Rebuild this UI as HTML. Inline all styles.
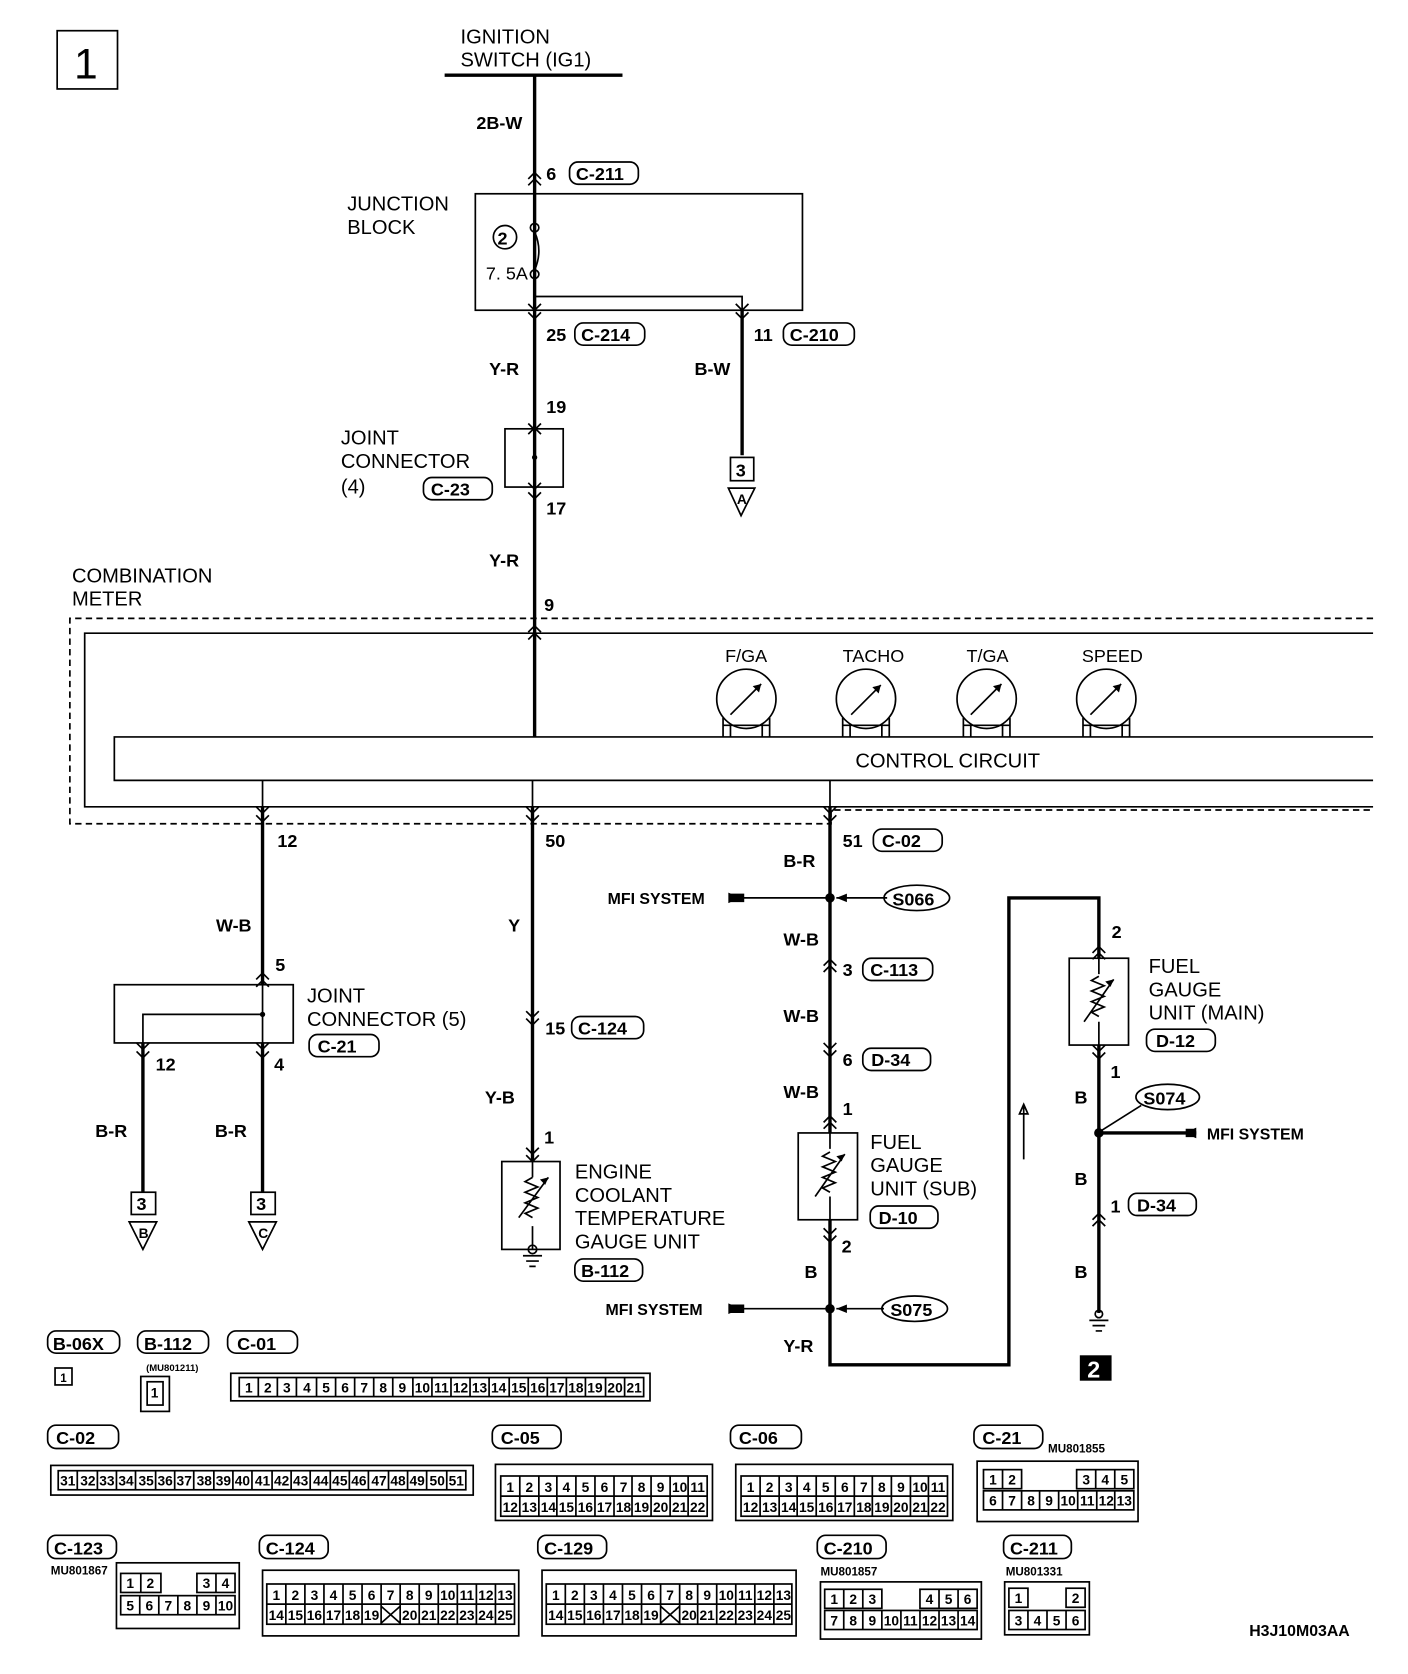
<!DOCTYPE html>
<html><head><meta charset="utf-8"><style>
html,body{margin:0;padding:0;background:#fff;}
svg{display:block;}
text{font-family:"Liberation Sans",sans-serif;fill:#000;}
.t{font-size:19px;}
.n{font-size:17px;font-family:"Liberation Sans Narrow","Liberation Sans",sans-serif;font-weight:bold;}
.s{font-size:13px;font-weight:bold;}
.c{font-size:13px;font-weight:bold;text-anchor:middle;}
.w{stroke:#000;stroke-width:3.2;fill:none;}
.l{stroke:#000;stroke-width:1.6;fill:none;}
.ch{stroke:#000;stroke-width:1.6;fill:none;}
</style></head><body>
<svg width="1408" height="1674" viewBox="0 0 1330 1581" preserveAspectRatio="none" xmlns="http://www.w3.org/2000/svg">
<rect x="0" y="0" width="1330" height="1581" fill="#fff"/>
<rect x="54" y="29" width="57" height="55" class="l" stroke-width="2.4"/>
<text x="70" y="74" style="font-size:40px">1</text>
<text x="435" y="41" class="t">IGNITION</text>
<text x="435" y="63" class="t">SWITCH (IG1)</text>
<path d="M420 71 H588" class="w"/>
<path d="M505 71 V598 M505 598 V696" class="w"/>
<text x="450" y="122" class="n">2B-W</text>
<text x="516" y="170" class="n">6</text>
<rect x="538" y="153" width="65" height="21" rx="8" class="l"/><text x="544" y="170" class="n">C-211</text>
<rect x="449" y="183" width="309" height="110" class="l"/>
<text x="328" y="199" class="t">JUNCTION</text>
<text x="328" y="221" class="t">BLOCK</text>
<circle cx="477" cy="224" r="11" class="l"/><text x="470" y="231" class="n">2</text>
<circle cx="505" cy="215" r="4" fill="#fff" class="l"/>
<circle cx="505" cy="259" r="4" fill="#fff" class="l"/>
<path d="M505 219 Q513 237 505 255" class="l"/>
<text x="459" y="264" class="n" style="font-weight:normal">7. 5A</text>
<path d="M505 263 V280 H701 V293" class="l"/>
<path d="M701 293 V430" class="w"/>
<text x="516" y="322" class="n">25</text>
<rect x="543" y="305" width="66" height="21" rx="8" class="l"/><text x="549" y="322" class="n">C-214</text>
<text x="712" y="322" class="n">11</text>
<rect x="740" y="305" width="67" height="21" rx="8" class="l"/><text x="746" y="322" class="n">C-210</text>
<text x="462" y="354" class="n">Y-R</text>
<text x="656" y="354" class="n">B-W</text>
<rect x="690" y="432" width="22" height="22" class="l" stroke-width="2"/><text x="695" y="450" class="n">3</text>
<path d="M688 461 H713 L700 487 Z" class="l" stroke-width="2"/><text x="696" y="476" class="s">A</text>
<text x="516" y="390" class="n">19</text>
<rect x="477" y="405" width="55" height="55" fill="#fff" class="l"/>
<path d="M505 405 V460" class="l"/><circle cx="505" cy="432" r="2.5"/>
<text x="322" y="420" class="t">JOINT</text>
<text x="322" y="442" class="t">CONNECTOR</text>
<text x="322" y="466" class="t">(4)</text>
<rect x="400" y="451" width="65" height="21" rx="8" class="l"/><text x="407" y="468" class="n">C-23</text>
<text x="516" y="486" class="n">17</text>
<text x="462" y="535" class="n">Y-R</text>
<text x="514" y="577" class="n">9</text>
<text x="68" y="550" class="t">COMBINATION</text>
<text x="68" y="572" class="t">METER</text>
<path d="M1297 584 H66 V778 H785 V765 H1297" class="l" stroke-dasharray="6,4"/>
<path d="M1297 598 H80 V762 H1297" class="l"/>
<path d="M1297 696 H108 V737 H1297" class="l" fill="#fff"/>
<text x="808" y="725" class="t">CONTROL CIRCUIT</text>
<g class="l">
<circle cx="705" cy="660" r="28"/><circle cx="818" cy="660" r="28"/><circle cx="932" cy="660" r="28"/><circle cx="1045" cy="660" r="28"/>
<path d="M683 678 V696 M727 678 V696 M690 685 V696 M720 685 V696 M683 685 H727"/>
<path d="M796 678 V696 M840 678 V696 M803 685 V696 M833 685 V696 M796 685 H840"/>
<path d="M910 678 V696 M954 678 V696 M917 685 V696 M947 685 V696 M910 685 H954"/>
<path d="M1023 678 V696 M1067 678 V696 M1030 685 V696 M1060 685 V696 M1023 685 H1067"/>
<path d="M690 675 L719 646 M804 675 L832 647 M917 675 L946 646 M1030 675 L1059 646"/>
</g>
<path d="M719 646 l-8 2 l6 6 Z M832 647 l-8 2 l6 6 Z M946 646 l-8 2 l6 6 Z M1059 646 l-8 2 l6 6 Z"/>
<text x="685" y="625" class="n" style="font-weight:normal">F/GA</text>
<text x="796" y="625" class="n" style="font-weight:normal">TACHO</text>
<text x="913" y="625" class="n" style="font-weight:normal">T/GA</text>
<text x="1022" y="625" class="n" style="font-weight:normal">SPEED</text>
<path d="M248 737 V762 M503 737 V762 M784 737 V762" class="l"/>
<path d="M248 762 V930 M248 985 V1126 M135 985 V1126" class="w"/>
<text x="262" y="800" class="n">12</text>
<text x="204" y="880" class="n">W-B</text>
<text x="260" y="917" class="n">5</text>
<rect x="108" y="930" width="169" height="55" class="l"/>
<path d="M248 930 V985 M248 958 H135 V985" class="l"/><circle cx="248" cy="958" r="2.5"/>
<text x="290" y="947" class="t">JOINT</text>
<text x="290" y="969" class="t">CONNECTOR (5)</text>
<rect x="292" y="977" width="66" height="21" rx="8" class="l"/><text x="300" y="994" class="n">C-21</text>
<text x="147" y="1011" class="n">12</text>
<text x="259" y="1011" class="n">4</text>
<text x="90" y="1074" class="n">B-R</text>
<text x="203" y="1074" class="n">B-R</text>
<rect x="124" y="1126" width="23" height="21" class="l" stroke-width="2"/><text x="129" y="1143" class="n">3</text>
<path d="M122 1154 H148 L135 1180 Z" class="l" stroke-width="2"/><text x="131" y="1169" class="s">B</text>
<rect x="237" y="1126" width="23" height="21" class="l" stroke-width="2"/><text x="242" y="1143" class="n">3</text>
<path d="M235 1154 H261 L248 1180 Z" class="l" stroke-width="2"/><text x="244" y="1169" class="s">C</text>
<path d="M503 762 V1097" class="w"/>
<text x="515" y="800" class="n">50</text>
<text x="480" y="880" class="n">Y</text>
<text x="515" y="977" class="n">15</text>
<rect x="540" y="960" width="68" height="21" rx="8" class="l"/><text x="546" y="977" class="n">C-124</text>
<text x="458" y="1042" class="n">Y-B</text>
<text x="514" y="1080" class="n">1</text>
<rect x="474" y="1097" width="55" height="83" class="l"/>
<path d="M503 1097 V1112 M503 1158 V1180 M490 1150 L518 1112 M503 1112 l-7 4 l12 5 l-12 5 l12 5 l-12 5 l12 5 l-12 5 l7 4" class="l"/>
<path d="M518 1112 l-8 2 l5 5Z"/>
<circle cx="503" cy="1180" r="4" fill="#fff" class="l"/>
<path d="M494 1186 H512 M497 1191 H509 M500 1196 H506" class="l"/>
<text x="543" y="1113" class="t">ENGINE</text>
<text x="543" y="1135" class="t">COOLANT</text>
<text x="543" y="1157" class="t">TEMPERATURE</text>
<text x="543" y="1179" class="t">GAUGE UNIT</text>
<rect x="543" y="1189" width="64" height="21" rx="8" class="l"/><text x="549" y="1206" class="n">B-112</text>
<path d="M784 762 V1070 M784 1152 V1289 H953 V848 H1038 V905 M1038 987 V1240" class="w"/>
<text x="796" y="800" class="n">51</text>
<rect x="825" y="783" width="65" height="21" rx="8" class="l"/><text x="833" y="800" class="n">C-02</text>
<text x="740" y="819" class="n">B-R</text>
<circle cx="784" cy="848" r="4.5"/>
<path d="M690 848 H784 M838 848 H790" class="l"/>
<path d="M703 844 L690 844 L690 852 L703 852 Z M700 848 l-12 -5 v10Z"/>
<path d="M790 848 l10 -4 v8Z"/>
<text x="574" y="854" class="s" style="font-size:15px">MFI SYSTEM</text>
<ellipse cx="866" cy="848" rx="31" ry="12" class="l" stroke-width="2"/><text x="843" y="855" class="n">S066</text>
<text x="740" y="893" class="n">W-B</text>
<text x="796" y="922" class="n">3</text>
<rect x="815" y="905" width="66" height="21" rx="8" class="l"/><text x="822" y="922" class="n">C-113</text>
<text x="740" y="965" class="n">W-B</text>
<text x="796" y="1007" class="n">6</text>
<rect x="815" y="990" width="64" height="21" rx="8" class="l"/><text x="823" y="1007" class="n">D-34</text>
<text x="740" y="1037" class="n">W-B</text>
<text x="796" y="1053" class="n">1</text>
<rect x="754" y="1070" width="56" height="82" class="l"/>
<path d="M784 1070 V1085 M784 1130 V1152 M770 1130 L798 1090 M784 1088 l-7 4 l12 5 l-12 5 l12 5 l-12 5 l12 5 l-12 5 l7 4" class="l"/>
<path d="M798 1090 l-8 2 l5 5Z"/>
<text x="822" y="1085" class="t">FUEL</text>
<text x="822" y="1107" class="t">GAUGE</text>
<text x="822" y="1129" class="t">UNIT (SUB)</text>
<rect x="822" y="1139" width="64" height="21" rx="8" class="l"/><text x="830" y="1156" class="n">D-10</text>
<text x="795" y="1183" class="n">2</text>
<text x="760" y="1207" class="n">B</text>
<circle cx="784" cy="1236" r="4.5"/>
<path d="M690 1236 H784 M835 1236 H790" class="l"/>
<path d="M703 1232 L690 1232 L690 1240 L703 1240 Z M700 1236 l-12 -5 v10Z"/>
<path d="M790 1236 l10 -4 v8Z"/>
<text x="572" y="1242" class="s" style="font-size:15px">MFI SYSTEM</text>
<ellipse cx="864" cy="1236" rx="31" ry="12" class="l" stroke-width="2"/><text x="841" y="1243" class="n">S075</text>
<text x="740" y="1277" class="n">Y-R</text>
<path d="M967 1095 V1045 M967 1043 l-4 9 h8Z" class="l"/>
<text x="1050" y="886" class="n">2</text>
<rect x="1010" y="905" width="56" height="82" class="l"/>
<path d="M1038 905 V920 M1038 965 V987 M1024 965 L1052 925 M1038 922 l-7 4 l12 5 l-12 5 l12 5 l-12 5 l12 5 l-12 5 l7 4" class="l"/>
<path d="M1052 925 l-8 2 l5 5Z"/>
<text x="1085" y="919" class="t">FUEL</text>
<text x="1085" y="941" class="t">GAUGE</text>
<text x="1085" y="963" class="t">UNIT (MAIN)</text>
<rect x="1083" y="972" width="65" height="21" rx="8" class="l"/><text x="1092" y="989" class="n">D-12</text>
<text x="1049" y="1018" class="n">1</text>
<text x="1015" y="1042" class="n">B</text>
<ellipse cx="1103" cy="1036" rx="30" ry="12" class="l" stroke-width="2"/><text x="1080" y="1043" class="n">S074</text>
<path d="M1078 1044 L1040 1068" class="l"/>
<circle cx="1038" cy="1070" r="4.5"/>
<path d="M1038 1070 H1130" class="w" stroke-width="2.4"/>
<path d="M1120 1066 h10 v8 h-10Z M1118 1070 l12 -5 v10Z"/>
<text x="1140" y="1076" class="s" style="font-size:15px">MFI SYSTEM</text>
<text x="1015" y="1119" class="n">B</text>
<text x="1049" y="1145" class="n">1</text>
<rect x="1066" y="1127" width="64" height="21" rx="8" class="l"/><text x="1074" y="1144" class="n">D-34</text>
<text x="1015" y="1207" class="n">B</text>
<circle cx="1038" cy="1241" r="3.5" fill="#fff" class="l"/>
<path d="M1029 1247 H1047 M1032 1252 H1044 M1035 1257 H1041" class="l"/>
<rect x="1020" y="1280" width="30" height="24" fill="#000"/>
<text x="1027" y="1301" style="font-size:22px;font-weight:bold;fill:#fff">2</text>
<g class="ch">
<path d="M499 169 l6 -6 l6 6 M499 175 l6 -6 l6 6"/>
<path d="M499 287 l6 6 l6 -6 M499 295 l6 6 l6 -6"/>
<path d="M695 287 l6 6 l6 -6 M695 295 l6 6 l6 -6"/>
<path d="M499 400 l6 6 l6 -6 M499 410 l6 -6 l6 6"/>
<path d="M499 456 l6 6 l6 -6 M499 465 l6 6 l6 -6"/>
<path d="M499 597 l6 -6 l6 6 M499 604 l6 -6 l6 6"/>
<path d="M242 762 l6 6 l6 -6 M242 770 l6 6 l6 -6"/>
<path d="M497 762 l6 6 l6 -6 M497 770 l6 6 l6 -6"/>
<path d="M778 762 l6 6 l6 -6 M778 770 l6 6 l6 -6"/>
<path d="M242 925 l6 -6 l6 6 M242 932 l6 -6 l6 6"/>
<path d="M129 985 l6 6 l6 -6 M129 993 l6 6 l6 -6"/>
<path d="M242 985 l6 6 l6 -6 M242 993 l6 6 l6 -6"/>
<path d="M497 955 l6 6 l6 -6 M497 962 l6 6 l6 -6"/>
<path d="M497 1084 l6 6 l6 -6 M497 1091 l6 6 l6 -6"/>
<path d="M778 912 l6 -6 l6 6 M778 918 l6 -6 l6 6"/>
<path d="M778 985 l6 6 l6 -6 M778 992 l6 6 l6 -6"/>
<path d="M778 1060 l6 -6 l6 6 M778 1066 l6 -6 l6 6"/>
<path d="M778 1160 l6 6 l6 -6 M778 1167 l6 6 l6 -6"/>
<path d="M1032 900 l6 -6 l6 6 M1032 906 l6 -6 l6 6"/>
<path d="M1032 987 l6 6 l6 -6 M1032 994 l6 6 l6 -6"/>
<path d="M1032 1152 l6 -6 l6 6 M1032 1158 l6 -6 l6 6"/>
</g>
<g class="l">
<rect x="45" y="1257" width="68" height="21" rx="8"/>
<rect x="130" y="1257" width="67" height="21" rx="8"/>
<rect x="215" y="1257" width="66" height="21" rx="8"/>
<rect x="45" y="1346" width="67" height="22" rx="8"/>
<rect x="465" y="1346" width="65" height="22" rx="8"/>
<rect x="690" y="1346" width="67" height="22" rx="8"/>
<rect x="920" y="1346" width="65" height="22" rx="8"/>
<rect x="45" y="1450" width="65" height="22" rx="8"/>
<rect x="245" y="1450" width="65" height="22" rx="8"/>
<rect x="508" y="1450" width="65" height="22" rx="8"/>
<rect x="772" y="1450" width="65" height="22" rx="8"/>
<rect x="948" y="1450" width="64" height="22" rx="8"/>
</g>
<text x="50" y="1275" class="n">B-06X</text>
<text x="136" y="1275" class="n">B-112</text>
<text x="224" y="1275" class="n">C-01</text>
<text x="53" y="1364" class="n">C-02</text>
<text x="473" y="1364" class="n">C-05</text>
<text x="698" y="1364" class="n">C-06</text>
<text x="928" y="1364" class="n">C-21</text>
<text x="51" y="1468" class="n">C-123</text>
<text x="251" y="1468" class="n">C-124</text>
<text x="514" y="1468" class="n">C-129</text>
<text x="778" y="1468" class="n">C-210</text>
<text x="954" y="1468" class="n">C-211</text>
<text x="138" y="1295" class="s" style="font-size:9px">(MU801211)</text>
<text x="990" y="1372" class="s" style="font-size:11px">MU801855</text>
<text x="48" y="1487" class="s" style="font-size:11px">MU801867</text>
<text x="775" y="1488" class="s" style="font-size:11px">MU801857</text>
<text x="950" y="1488" class="s" style="font-size:11px">MU801331</text>
<text x="1180" y="1545" class="s" style="font-size:15px">H3J10M03AA</text>
<rect x="52" y="1292" width="16" height="16" class="l"/><text x="60" y="1305" class="c" style="font-size:11px">1</text>
<rect x="133" y="1300" width="27" height="33" class="l" stroke-width="2"/><rect x="139" y="1305" width="15" height="22" class="l"/><text x="146" y="1320" class="c">1</text>
<rect x="218" y="1297" width="396" height="26" class="l" stroke-width="2"/>
<g class="l"><rect x="226" y="1301" width="382" height="18"/>
<path d="M244 1301V1319M262 1301V1319M280 1301V1319M299 1301V1319M317 1301V1319M335 1301V1319M353 1301V1319M371 1301V1319M390 1301V1319M408 1301V1319M426 1301V1319M444 1301V1319M462 1301V1319M481 1301V1319M499 1301V1319M517 1301V1319M535 1301V1319M553 1301V1319M572 1301V1319M590 1301V1319"/></g>
<text x="235" y="1315" class="c">1</text><text x="253" y="1315" class="c">2</text><text x="271" y="1315" class="c">3</text><text x="290" y="1315" class="c">4</text><text x="308" y="1315" class="c">5</text><text x="326" y="1315" class="c">6</text><text x="344" y="1315" class="c">7</text><text x="362" y="1315" class="c">8</text><text x="380" y="1315" class="c">9</text><text x="399" y="1315" class="c">10</text><text x="417" y="1315" class="c">11</text><text x="435" y="1315" class="c">12</text><text x="453" y="1315" class="c">13</text><text x="471" y="1315" class="c">14</text><text x="490" y="1315" class="c">15</text><text x="508" y="1315" class="c">16</text><text x="526" y="1315" class="c">17</text><text x="544" y="1315" class="c">18</text><text x="562" y="1315" class="c">19</text><text x="581" y="1315" class="c">20</text><text x="599" y="1315" class="c">21</text>
<rect x="48" y="1384" width="399" height="28" class="l" stroke-width="2"/>
<g class="l"><rect x="55" y="1389" width="385" height="18"/>
<path d="M73 1389V1407M92 1389V1407M110 1389V1407M128 1389V1407M147 1389V1407M165 1389V1407M183 1389V1407M202 1389V1407M220 1389V1407M238 1389V1407M257 1389V1407M275 1389V1407M293 1389V1407M312 1389V1407M330 1389V1407M348 1389V1407M367 1389V1407M385 1389V1407M403 1389V1407M422 1389V1407"/></g>
<text x="64" y="1403" class="c">31</text><text x="83" y="1403" class="c">32</text><text x="101" y="1403" class="c">33</text><text x="119" y="1403" class="c">34</text><text x="138" y="1403" class="c">35</text><text x="156" y="1403" class="c">36</text><text x="174" y="1403" class="c">37</text><text x="193" y="1403" class="c">38</text><text x="211" y="1403" class="c">39</text><text x="229" y="1403" class="c">40</text><text x="248" y="1403" class="c">41</text><text x="266" y="1403" class="c">42</text><text x="284" y="1403" class="c">43</text><text x="303" y="1403" class="c">44</text><text x="321" y="1403" class="c">45</text><text x="339" y="1403" class="c">46</text><text x="358" y="1403" class="c">47</text><text x="376" y="1403" class="c">48</text><text x="394" y="1403" class="c">49</text><text x="413" y="1403" class="c">50</text><text x="431" y="1403" class="c">51</text>
<rect x="468" y="1383" width="205" height="53" class="l" stroke-width="2"/>
<g class="l"><rect x="473" y="1394" width="195" height="38"/><path d="M473 1413H668 M491 1394V1432M509 1394V1432M526 1394V1432M544 1394V1432M562 1394V1432M580 1394V1432M597 1394V1432M615 1394V1432M633 1394V1432M650 1394V1432"/></g>
<text x="482" y="1409" class="c">1</text><text x="500" y="1409" class="c">2</text><text x="518" y="1409" class="c">3</text><text x="535" y="1409" class="c">4</text><text x="553" y="1409" class="c">5</text><text x="571" y="1409" class="c">6</text><text x="589" y="1409" class="c">7</text><text x="606" y="1409" class="c">8</text><text x="624" y="1409" class="c">9</text><text x="642" y="1409" class="c">10</text><text x="659" y="1409" class="c">11</text>
<text x="482" y="1428" class="c">12</text><text x="500" y="1428" class="c">13</text><text x="518" y="1428" class="c">14</text><text x="535" y="1428" class="c">15</text><text x="553" y="1428" class="c">16</text><text x="571" y="1428" class="c">17</text><text x="589" y="1428" class="c">18</text><text x="606" y="1428" class="c">19</text><text x="624" y="1428" class="c">20</text><text x="642" y="1428" class="c">21</text><text x="659" y="1428" class="c">22</text>
<rect x="695" y="1383" width="205" height="53" class="l" stroke-width="2"/>
<g class="l"><rect x="700" y="1394" width="195" height="38"/><path d="M700 1413H895 M718 1394V1432M736 1394V1432M753 1394V1432M771 1394V1432M789 1394V1432M807 1394V1432M824 1394V1432M842 1394V1432M860 1394V1432M877 1394V1432"/></g>
<text x="709" y="1409" class="c">1</text><text x="727" y="1409" class="c">2</text><text x="745" y="1409" class="c">3</text><text x="762" y="1409" class="c">4</text><text x="780" y="1409" class="c">5</text><text x="798" y="1409" class="c">6</text><text x="816" y="1409" class="c">7</text><text x="833" y="1409" class="c">8</text><text x="851" y="1409" class="c">9</text><text x="869" y="1409" class="c">10</text><text x="886" y="1409" class="c">11</text>
<text x="709" y="1428" class="c">12</text><text x="727" y="1428" class="c">13</text><text x="745" y="1428" class="c">14</text><text x="762" y="1428" class="c">15</text><text x="780" y="1428" class="c">16</text><text x="798" y="1428" class="c">17</text><text x="816" y="1428" class="c">18</text><text x="833" y="1428" class="c">19</text><text x="851" y="1428" class="c">20</text><text x="869" y="1428" class="c">21</text><text x="886" y="1428" class="c">22</text>
<rect x="923" y="1380" width="152" height="57" class="l" stroke-width="2"/>
<g class="l"><rect x="929" y="1388" width="36" height="18"/><path d="M947 1388V1406"/><rect x="1017" y="1388" width="54" height="18"/><path d="M1035 1388V1406M1053 1388V1406"/>
<rect x="929" y="1408" width="142" height="18"/><path d="M947 1408V1426M965 1408V1426M982 1408V1426M1000 1408V1426M1018 1408V1426M1036 1408V1426M1053 1408V1426"/></g>
<text x="938" y="1402" class="c">1</text><text x="956" y="1402" class="c">2</text><text x="1026" y="1402" class="c">3</text><text x="1044" y="1402" class="c">4</text><text x="1062" y="1402" class="c">5</text>
<text x="938" y="1422" class="c">6</text><text x="956" y="1422" class="c">7</text><text x="974" y="1422" class="c">8</text><text x="991" y="1422" class="c">9</text><text x="1009" y="1422" class="c">10</text><text x="1027" y="1422" class="c">11</text><text x="1045" y="1422" class="c">12</text><text x="1062" y="1422" class="c">13</text>
<rect x="110" y="1476" width="116" height="62" class="l" stroke-width="2"/>
<g class="l"><rect x="114" y="1486" width="38" height="18"/><path d="M133 1486V1504"/><rect x="186" y="1486" width="36" height="18"/><path d="M204 1486V1504"/>
<rect x="114" y="1507" width="108" height="18"/><path d="M132 1507V1525M150 1507V1525M168 1507V1525M186 1507V1525M204 1507V1525"/></g>
<text x="123" y="1500" class="c">1</text><text x="142" y="1500" class="c">2</text><text x="195" y="1500" class="c">3</text><text x="213" y="1500" class="c">4</text>
<text x="123" y="1521" class="c">5</text><text x="141" y="1521" class="c">6</text><text x="159" y="1521" class="c">7</text><text x="177" y="1521" class="c">8</text><text x="195" y="1521" class="c">9</text><text x="213" y="1521" class="c">10</text>
<rect x="248" y="1483" width="242" height="62" class="l" stroke-width="2"/>
<g class="l"><rect x="252" y="1496" width="234" height="38"/><path d="M252 1515H486 M270 1496V1534M288 1496V1534M306 1496V1534M324 1496V1534M342 1496V1534M360 1496V1534M378 1496V1534M396 1496V1534M414 1496V1534M432 1496V1534M450 1496V1534M468 1496V1534 M360 1517 L378 1533 M378 1517 L360 1533"/></g>
<text x="261" y="1511" class="c">1</text><text x="279" y="1511" class="c">2</text><text x="297" y="1511" class="c">3</text><text x="315" y="1511" class="c">4</text><text x="333" y="1511" class="c">5</text><text x="351" y="1511" class="c">6</text><text x="369" y="1511" class="c">7</text><text x="387" y="1511" class="c">8</text><text x="405" y="1511" class="c">9</text><text x="423" y="1511" class="c">10</text><text x="441" y="1511" class="c">11</text><text x="459" y="1511" class="c">12</text><text x="477" y="1511" class="c">13</text>
<text x="261" y="1530" class="c">14</text><text x="279" y="1530" class="c">15</text><text x="297" y="1530" class="c">16</text><text x="315" y="1530" class="c">17</text><text x="333" y="1530" class="c">18</text><text x="351" y="1530" class="c">19</text><text x="387" y="1530" class="c">20</text><text x="405" y="1530" class="c">21</text><text x="423" y="1530" class="c">22</text><text x="441" y="1530" class="c">23</text><text x="459" y="1530" class="c">24</text><text x="477" y="1530" class="c">25</text>
<rect x="512" y="1483" width="240" height="62" class="l" stroke-width="2"/>
<g class="l"><rect x="516" y="1496" width="232" height="38"/><path d="M516 1515H748 M534 1496V1534M552 1496V1534M570 1496V1534M588 1496V1534M606 1496V1534M624 1496V1534M642 1496V1534M659 1496V1534M677 1496V1534M695 1496V1534M713 1496V1534M731 1496V1534 M624 1517 L642 1533 M642 1517 L624 1533"/></g>
<text x="525" y="1511" class="c">1</text><text x="543" y="1511" class="c">2</text><text x="561" y="1511" class="c">3</text><text x="579" y="1511" class="c">4</text><text x="597" y="1511" class="c">5</text><text x="615" y="1511" class="c">6</text><text x="633" y="1511" class="c">7</text><text x="651" y="1511" class="c">8</text><text x="668" y="1511" class="c">9</text><text x="686" y="1511" class="c">10</text><text x="704" y="1511" class="c">11</text><text x="722" y="1511" class="c">12</text><text x="740" y="1511" class="c">13</text>
<text x="525" y="1530" class="c">14</text><text x="543" y="1530" class="c">15</text><text x="561" y="1530" class="c">16</text><text x="579" y="1530" class="c">17</text><text x="597" y="1530" class="c">18</text><text x="615" y="1530" class="c">19</text><text x="651" y="1530" class="c">20</text><text x="668" y="1530" class="c">21</text><text x="686" y="1530" class="c">22</text><text x="704" y="1530" class="c">23</text><text x="722" y="1530" class="c">24</text><text x="740" y="1530" class="c">25</text>
<rect x="775" y="1494" width="152" height="54" class="l" stroke-width="2"/>
<g class="l"><rect x="779" y="1501" width="54" height="18"/><path d="M797 1501V1519M815 1501V1519"/><rect x="869" y="1501" width="54" height="18"/><path d="M887 1501V1519M905 1501V1519"/>
<rect x="779" y="1521" width="144" height="18"/><path d="M797 1521V1539M815 1521V1539M833 1521V1539M851 1521V1539M869 1521V1539M887 1521V1539M905 1521V1539"/></g>
<text x="788" y="1515" class="c">1</text><text x="806" y="1515" class="c">2</text><text x="824" y="1515" class="c">3</text><text x="878" y="1515" class="c">4</text><text x="896" y="1515" class="c">5</text><text x="914" y="1515" class="c">6</text>
<text x="788" y="1535" class="c">7</text><text x="806" y="1535" class="c">8</text><text x="824" y="1535" class="c">9</text><text x="842" y="1535" class="c">10</text><text x="860" y="1535" class="c">11</text><text x="878" y="1535" class="c">12</text><text x="896" y="1535" class="c">13</text><text x="914" y="1535" class="c">14</text>
<rect x="949" y="1494" width="80" height="50" class="l" stroke-width="2"/>
<g class="l"><rect x="953" y="1500" width="18" height="18"/><rect x="1007" y="1500" width="18" height="18"/>
<rect x="953" y="1521" width="72" height="18"/><path d="M971 1521V1539M989 1521V1539M1007 1521V1539"/></g>
<text x="962" y="1514" class="c">1</text><text x="1016" y="1514" class="c">2</text>
<text x="962" y="1535" class="c">3</text><text x="980" y="1535" class="c">4</text><text x="998" y="1535" class="c">5</text><text x="1016" y="1535" class="c">6</text>
</svg>
</body></html>
